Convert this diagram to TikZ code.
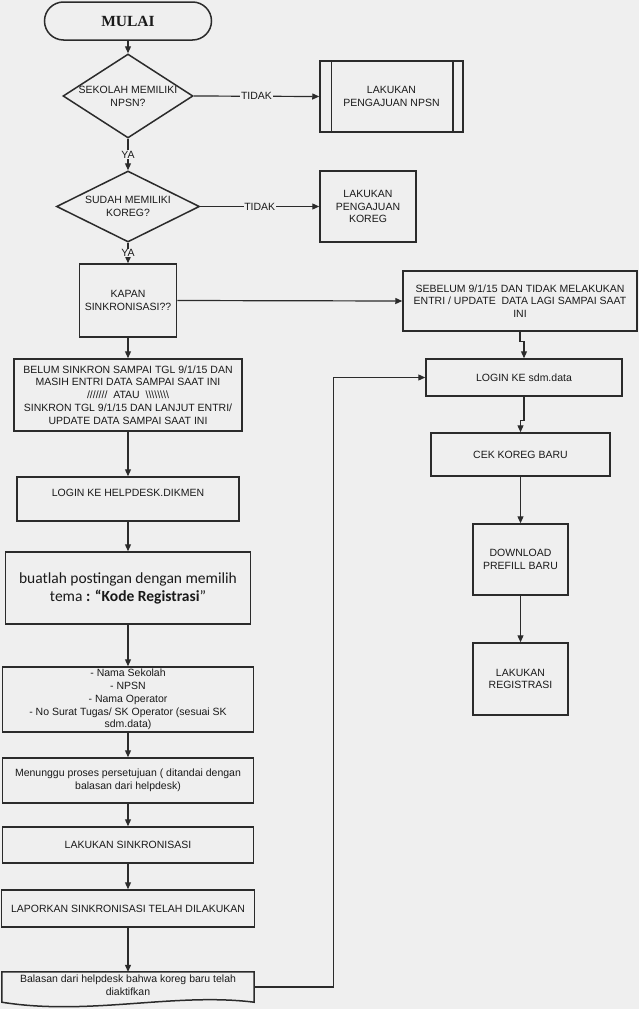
\documentclass[tikz,border=0pt]{standalone}
\usepackage{fontspec}
\setmainfont{Liberation Sans}
\newfontfamily\calib{Carlito}
\newfontfamily\tnr{Liberation Serif}
\usetikzlibrary{shapes.geometric,arrows.meta,calc}
\definecolor{bg}{HTML}{EFEFEF}
\definecolor{ln}{HTML}{2B2B2B}
\definecolor{tx}{HTML}{1A1A1A}
\begin{document}
\begin{tikzpicture}[x=1pt,y=-1pt,
  txt/.style={font=\fontsize{10.5}{12.8}\selectfont,text=tx,align=center},
  lab/.style={txt,inner sep=0pt},
  box/.style={txt,draw=ln,line width=1.5pt,inner sep=0pt,rectangle},
  term/.style={box,rounded corners=19pt,font=\tnr\bfseries\fontsize{15.5}{18}\selectfont},
  dia/.style={draw=ln,line width=1.5pt,diamond,inner sep=0pt},
  arr/.style={draw=ln,line width=1.2pt,-{Triangle[length=7pt,width=6pt]}},
  edgelab/.style={txt,fill=bg,inner sep=0.6pt}]
\fill[bg] (0,0) rectangle (639,1009);
\useasboundingbox (0,0) rectangle (639,1009);

% left column
\node[term,minimum width=167pt,minimum height=38pt] (mulai) at (128,21) {MULAI};
\node[dia,minimum width=130pt,minimum height=84pt,
      label={[lab]center:{SEKOLAH MEMILIKI\\NPSN?}}] (d1) at (128,96) {};
\node[box,minimum width=143pt,minimum height=71pt] (npsn) at (391.5,96.5) {LAKUKAN\\PENGAJUAN NPSN};
\draw[draw=ln,line width=1.5pt] ([xshift=12pt]npsn.north west) -- ([xshift=12pt]npsn.south west);
\draw[draw=ln,line width=1.5pt] ([xshift=-11pt]npsn.north east) -- ([xshift=-11pt]npsn.south east);
\node[dia,minimum width=143pt,minimum height=71pt,
      label={[lab]center:{SUDAH MEMILIKI\\KOREG?}}] (d2) at (128,206.5) {};
\node[box,minimum width=96pt,minimum height=71pt] (koreg) at (368,206.5) {LAKUKAN\\PENGAJUAN\\KOREG};
\node[box,minimum width=97pt,minimum height=73pt] (kapan) at (128,300.5) {KAPAN\\SINKRONISASI??};
\node[box,minimum width=234pt,minimum height=60pt] (sebelum) at (520,301)
  {SEBELUM 9/1/15 DAN TIDAK MELAKUKAN\\ENTRI / UPDATE\ \ DATA LAGI SAMPAI SAAT\\INI};
\node[box,minimum width=228pt,minimum height=72pt] (belum) at (128,395)
  {BELUM SINKRON SAMPAI TGL 9/1/15 DAN\\MASIH ENTRI DATA SAMPAI SAAT INI\\///////\ \ ATAU\ \ \textbackslash\textbackslash\textbackslash\textbackslash\textbackslash\textbackslash\textbackslash\textbackslash\\SINKRON TGL 9/1/15 DAN LANJUT ENTRI/\\UPDATE DATA SAMPAI SAAT INI};
\node[box,minimum width=222pt,minimum height=44pt,
      label={[lab,yshift=6pt]center:LOGIN KE HELPDESK.DIKMEN}] (lhd) at (128,499) {};
\node[box,minimum width=245pt,minimum height=72pt,font=\calib\fontsize{15.5}{18}\selectfont] (buat) at (128,588)
  {buatlah postingan dengan memilih\\tema \textbf{: “Kode Registrasi}”};
\node[box,minimum width=251pt,minimum height=65pt] (nama) at (128,699.5)
  {- Nama Sekolah\\- NPSN\\- Nama Operator\\- No Surat Tugas/ SK Operator (sesuai SK\\sdm.data)};
\node[box,minimum width=251pt,minimum height=45pt] (tunggu) at (128,780.5)
  {Menunggu proses persetujuan ( ditandai dengan\\balasan dari helpdesk)};
\node[box,minimum width=251pt,minimum height=36pt] (sinkron) at (128,845) {LAKUKAN SINKRONISASI};
\node[box,minimum width=253pt,minimum height=37pt] (lapor) at (128,908.5) {LAPORKAN SINKRONISASI TELAH DILAKUKAN};
\node[rectangle,inner sep=0pt,minimum width=252pt,minimum height=30pt,
      label={[lab,yshift=1.5pt]center:{Balasan dari helpdesk bahwa koreg baru telah\\diaktifkan}}] (doc) at (128,987) {};
\draw[draw=ln,line width=1.5pt] (doc.south west) -- (doc.north west) -- (doc.north east) -- (doc.south east)
  .. controls +(-80,-10) and +(87,14) .. (doc.south west) -- cycle;

% right column
\node[box,minimum width=196pt,minimum height=37pt] (loginsdm) at (524,377.5) {LOGIN KE sdm.data};
\node[box,minimum width=179pt,minimum height=43pt] (cek) at (520.5,454.5) {CEK KOREG BARU};
\node[box,minimum width=95pt,minimum height=71pt] (download) at (520.5,559.5) {DOWNLOAD\\PREFILL BARU};
\node[box,minimum width=95pt,minimum height=72pt] (registrasi) at (520.5,679) {LAKUKAN\\REGISTRASI};

% connectors
\draw[arr] (mulai.south) -- (d1.north);
\draw[arr] (d1.east) -- node[edgelab]{TIDAK} (npsn.west);
\draw[arr] (d1.south) -- node[edgelab]{YA} (d2.north);
\draw[arr] (d2.east) -- node[edgelab]{TIDAK} (koreg.west);
\draw[arr] (d2.south) -- node[edgelab]{YA} (kapan.north);
\draw[arr] (kapan.east) -- (sebelum.west);
\draw[arr] (kapan.south) -- (belum.north);
\draw[arr] (belum.south) -- (lhd.north);
\draw[arr] (lhd.south) -- (buat.north);
\draw[arr] (buat.south) -- (nama.north);
\draw[arr] (nama.south) -- (tunggu.north);
\draw[arr] (tunggu.south) -- (sinkron.north);
\draw[arr] (sinkron.south) -- (lapor.north);
\draw[arr] (lapor.south) -- (doc.north);
\draw[arr] (sebelum.south) -- ++(0,10) -| (loginsdm.north);
\draw[arr] (loginsdm.south) -- ++(0,24) -| (cek.north);
\draw[arr] (cek.south) -- (download.north);
\draw[arr] (download.south) -- (registrasi.north);
\draw[arr] (doc.east) -- ++(79,0) |- (loginsdm.west);
\end{tikzpicture}
\end{document}
